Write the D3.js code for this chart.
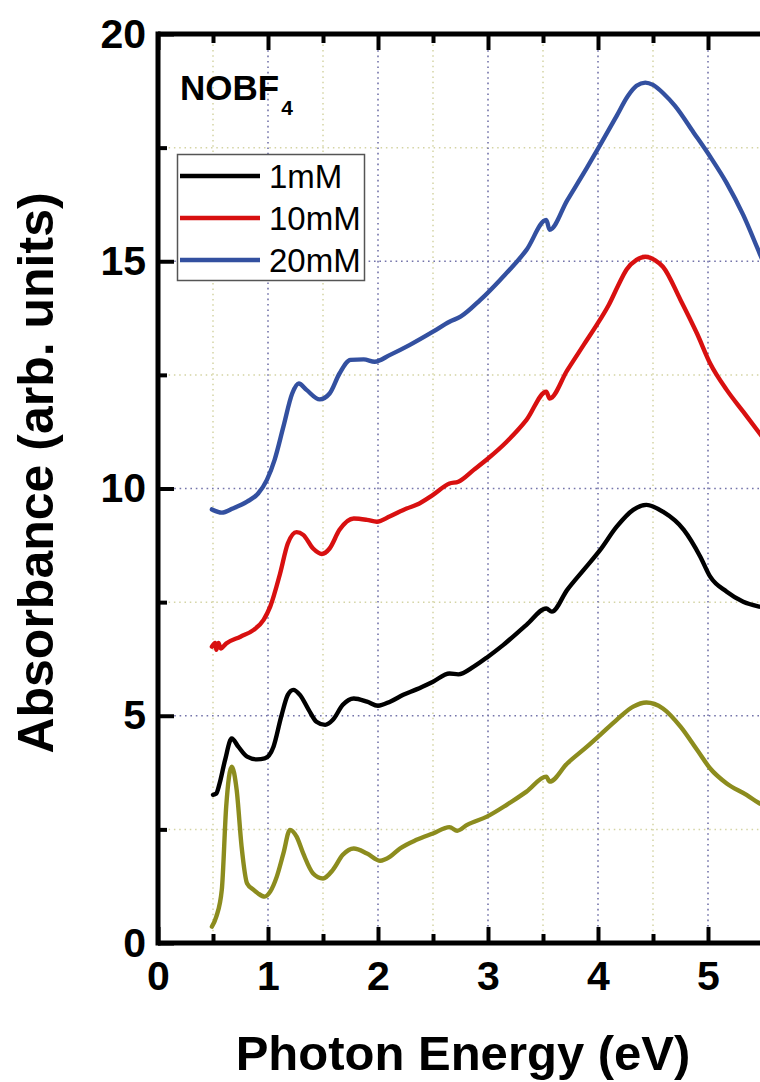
<!DOCTYPE html>
<html>
<head>
<meta charset="utf-8">
<script src="https://cdn.jsdelivr.net/npm/d3@7"></script>
<style>
  html, body { margin: 0; padding: 0; background: #fff; }
  svg { display: block; font-family: "Liberation Sans", Arial, sans-serif; }
</style>
</head>
<body>
<svg id="chart" width="760" height="1082"></svg>
<script>
// photon energy (eV) / absorbance (arb. units)
var olive = [
  [0.49,0.36],[0.53,0.58],[0.58,1.17],[0.62,3.0],[0.67,3.88],[0.715,3.37],[0.76,2.12],[0.81,1.31],
  [0.87,1.17],[0.91,1.09],[0.97,1.02],[1.02,1.13],[1.08,1.46],[1.14,1.97],[1.2,2.49],[1.26,2.34],
  [1.32,1.97],[1.41,1.53],[1.5,1.42],[1.59,1.61],[1.68,1.94],[1.78,2.08],[1.9,1.97],[2.02,1.81],
  [2.11,1.9],[2.2,2.08],[2.35,2.27],[2.5,2.41],[2.65,2.55],[2.72,2.47],[2.81,2.6],[2.99,2.78],
  [3.17,3.04],[3.35,3.33],[3.53,3.66],[3.56,3.55],[3.72,3.95],[3.9,4.32],[4.02,4.58],[4.17,4.91],
  [4.32,5.2],[4.44,5.29],[4.59,5.16],[4.75,4.76],[4.9,4.25],[5.02,3.84],[5.17,3.51],[5.35,3.26],
  [5.47,3.07],[5.55,2.98]
];
var mM1 = [
  [0.5,3.26],[0.53,3.29],[0.56,3.51],[0.61,4.03],[0.67,4.5],[0.73,4.32],[0.81,4.1],[0.9,4.04],
  [0.97,4.06],[1.05,4.32],[1.12,4.98],[1.18,5.46],[1.23,5.57],[1.29,5.46],[1.37,5.13],[1.44,4.87],
  [1.52,4.8],[1.59,4.91],[1.68,5.24],[1.78,5.38],[1.9,5.31],[2.0,5.22],[2.11,5.31],[2.23,5.46],
  [2.35,5.58],[2.5,5.75],[2.65,5.93],[2.73,5.91],[2.87,6.08],[3.0,6.3],[3.14,6.56],[3.35,7.0],
  [3.53,7.36],[3.58,7.29],[3.72,7.77],[3.87,8.21],[4.02,8.65],[4.17,9.16],[4.32,9.53],[4.44,9.64],
  [4.59,9.49],[4.78,9.09],[4.93,8.5],[5.02,8.06],[5.17,7.73],[5.32,7.51],[5.47,7.4],[5.55,7.36]
];
var mM10 = [
  [0.49,6.52],[0.52,6.6],[0.53,6.45],[0.55,6.6],[0.57,6.48],[0.62,6.59],[0.75,6.74],[0.87,6.89],
  [0.96,7.11],[1.02,7.4],[1.11,8.13],[1.18,8.79],[1.26,9.04],[1.32,8.98],[1.41,8.68],[1.49,8.56],
  [1.56,8.68],[1.65,9.09],[1.78,9.34],[1.9,9.31],[1.99,9.27],[2.11,9.39],[2.26,9.56],[2.35,9.64],
  [2.5,9.86],[2.65,10.11],[2.73,10.15],[2.87,10.41],[3.0,10.66],[3.17,11.03],[3.35,11.51],[3.53,12.13],
  [3.56,11.98],[3.72,12.6],[3.87,13.16],[4.02,13.72],[4.1,14.05],[4.18,14.45],[4.26,14.82],[4.35,15.03],
  [4.43,15.1],[4.52,15.02],[4.59,14.88],[4.75,14.15],[4.9,13.41],[5.02,12.75],[5.17,12.17],[5.32,11.69],
  [5.47,11.21],[5.55,10.95]
];
var mM20 = [
  [0.49,9.54],[0.58,9.47],[0.68,9.56],[0.81,9.71],[0.91,9.89],[0.99,10.19],[1.06,10.63],[1.14,11.36],
  [1.22,12.09],[1.28,12.31],[1.35,12.17],[1.47,11.96],[1.56,12.09],[1.65,12.53],[1.75,12.83],[1.87,12.84],
  [1.97,12.79],[2.11,12.94],[2.29,13.16],[2.5,13.45],[2.65,13.67],[2.75,13.78],[2.93,14.15],[3.11,14.59],
  [3.35,15.25],[3.53,15.91],[3.56,15.69],[3.72,16.34],[3.9,17.06],[4.02,17.56],[4.17,18.2],[4.27,18.63],
  [4.35,18.86],[4.43,18.93],[4.5,18.88],[4.6,18.68],[4.7,18.42],[4.87,17.83],[5.02,17.3],[5.17,16.72],
  [5.32,16.02],[5.47,15.17],[5.55,14.72]
];
var series = [
  { name: "", data: olive, color: "#8c8c1e" },
  { name: "1mM", data: mM1, color: "#000000" },
  { name: "10mM", data: mM10, color: "#d81010" },
  { name: "20mM", data: mM20, color: "#3350a0" }
];
var legendNames = ["1mM", "10mM", "20mM"];
var xMajor = [0, 1, 2, 3, 4, 5];
var xMinor = [0.5, 1.5, 2.5, 3.5, 4.5, 5.5];
var yMajor = [0, 5, 10, 15, 20];
var yMinor = [2.5, 7.5, 12.5, 17.5];

var svg = d3.select("#chart");
var padL = 158, padT = 34, padB = 943;

var x = d3.scaleLinear().domain([0, 6]).range([padL, padL + 660]);
var y = d3.scaleLinear().domain([0, 20]).range([padB, padT]);

// grid
var grid = svg.append("g");
grid.selectAll(".gxm").data(xMinor).enter().append("line")
  .attr("x1", function(d) { return x(d); }).attr("x2", function(d) { return x(d); })
  .attr("y1", padT).attr("y2", padB)
  .attr("stroke", "#d4d4a4").attr("stroke-width", 1.5).attr("stroke-dasharray", "1.5,3.8");
grid.selectAll(".gym").data(yMinor).enter().append("line")
  .attr("x1", padL).attr("x2", 760)
  .attr("y1", function(d) { return y(d); }).attr("y2", function(d) { return y(d); })
  .attr("stroke", "#d4d4a4").attr("stroke-width", 1.5).attr("stroke-dasharray", "1.5,3.8");
grid.selectAll(".gx").data(xMajor.slice(1)).enter().append("line")
  .attr("x1", function(d) { return x(d); }).attr("x2", function(d) { return x(d); })
  .attr("y1", padT).attr("y2", padB)
  .attr("stroke", "#7474aa").attr("stroke-width", 1.6).attr("stroke-dasharray", "1.6,3.8");
grid.selectAll(".gy").data(yMajor.slice(1, 4)).enter().append("line")
  .attr("x1", padL).attr("x2", 760)
  .attr("y1", function(d) { return y(d); }).attr("y2", function(d) { return y(d); })
  .attr("stroke", "#7474aa").attr("stroke-width", 1.6).attr("stroke-dasharray", "1.6,3.8");

// curves
var line = d3.line()
  .x(function(d) { return x(d[0]); })
  .y(function(d) { return y(d[1]); })
  .curve(d3.curveMonotoneX);

svg.selectAll(".curve").data(series).enter().append("path")
  .attr("d", function(d) { return line(d.data); })
  .attr("fill", "none")
  .attr("stroke", function(d) { return d.color; })
  .attr("stroke-width", 4.4)
  .attr("stroke-linejoin", "round")
  .attr("stroke-linecap", "round");

// axes (ticks point inward)
function styleAxis(g) {
  g.select(".domain").remove();
  g.selectAll(".tick line").attr("stroke", "#000").attr("stroke-width", 4);
  g.selectAll("text").attr("fill", "#000");
}
var xMinorAxis = d3.axisBottom(x).tickValues(xMinor).tickSize(-9).tickFormat("");
var xMajorAxis = d3.axisBottom(x).tickValues(xMajor).tickSize(-16).tickPadding(18).tickFormat(d3.format("d"));
svg.append("g").attr("transform", "translate(0," + padB + ")").call(xMinorAxis).call(styleAxis);
svg.append("g").attr("transform", "translate(0," + padB + ")").call(xMajorAxis).call(styleAxis)
  .selectAll("text").attr("font-size", 41).attr("font-weight", "bold")
  .attr("font-family", "Liberation Sans, Arial, sans-serif");
svg.append("g").attr("transform", "translate(0," + padT + ")")
  .call(d3.axisTop(x).tickValues(xMinor).tickSize(-9).tickFormat("")).call(styleAxis);
svg.append("g").attr("transform", "translate(0," + padT + ")")
  .call(d3.axisTop(x).tickValues(xMajor).tickSize(-16).tickFormat("")).call(styleAxis);

svg.append("g").attr("transform", "translate(" + padL + ",0)")
  .call(d3.axisLeft(y).tickValues(yMinor).tickSize(-9).tickFormat("")).call(styleAxis);
svg.append("g").attr("transform", "translate(" + padL + ",0)")
  .call(d3.axisLeft(y).tickValues(yMajor).tickSize(-16).tickPadding(12).tickFormat(d3.format("d")))
  .call(styleAxis)
  .selectAll("text").attr("font-size", 41).attr("font-weight", "bold")
  .attr("font-family", "Liberation Sans, Arial, sans-serif");

// frame
svg.append("line").attr("x1", padL).attr("x2", 760).attr("y1", padB).attr("y2", padB)
  .attr("stroke", "#000").attr("stroke-width", 5);
svg.append("line").attr("x1", padL).attr("x2", 760).attr("y1", padT).attr("y2", padT)
  .attr("stroke", "#000").attr("stroke-width", 5);
svg.append("line").attr("x1", padL).attr("x2", padL).attr("y1", padT - 2.5).attr("y2", padB + 2.5)
  .attr("stroke", "#000").attr("stroke-width", 5);

// axis titles
svg.append("text")
  .attr("x", 463).attr("y", 1070)
  .attr("text-anchor", "middle")
  .attr("font-size", 49).attr("font-weight", "bold")
  .text("Photon Energy (eV)");
svg.append("text")
  .attr("transform", "translate(53,473) rotate(-90)")
  .attr("text-anchor", "middle")
  .attr("font-size", 50).attr("font-weight", "bold")
  .text("Absorbance (arb. units)");

// NOBF4 label
var lab = svg.append("text").attr("x", 180).attr("y", 100)
  .attr("font-size", 35).attr("font-weight", "bold");
lab.append("tspan").text("NOBF");
lab.append("tspan").attr("dx", 2).attr("dy", 15).attr("font-size", 21).text("4");

// legend
var legend = svg.append("g");
legend.append("rect")
  .attr("x", 177.5).attr("y", 154.5).attr("width", 187).attr("height", 126)
  .attr("fill", "#fff").attr("stroke", "#555").attr("stroke-width", 1.5);
var items = legend.selectAll(".item").data(series.slice(1)).enter().append("g")
  .attr("transform", function(d, i) { return "translate(0," + (176 + i * 42) + ")"; });
items.append("line").attr("x1", 180).attr("x2", 260).attr("y1", 0).attr("y2", 0)
  .attr("stroke", function(d) { return d.color; }).attr("stroke-width", 4.4);
items.append("text").attr("x", 269).attr("y", 12)
  .attr("font-size", 33)
  .text(function(d, i) { return legendNames[i]; });
</script>
</body>
</html>
